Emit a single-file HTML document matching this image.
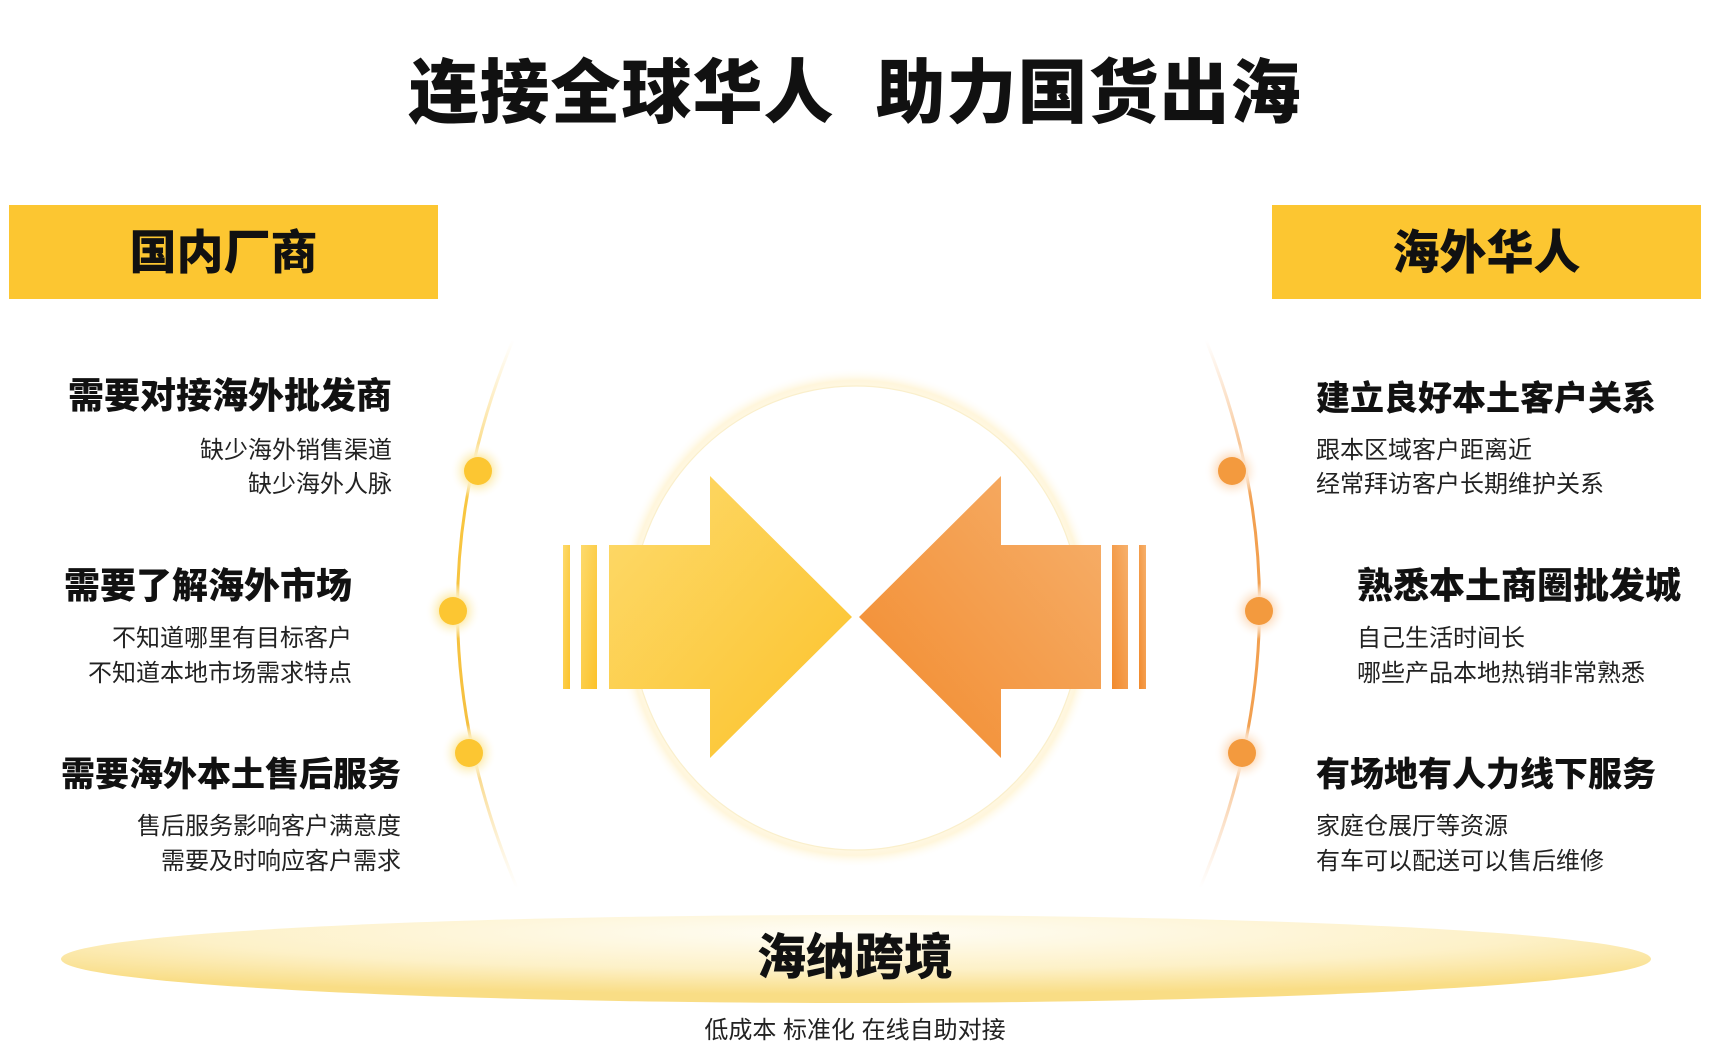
<!DOCTYPE html>
<html><head><meta charset="utf-8"><style>
html,body{margin:0;padding:0;background:#fff;}
body{width:1710px;height:1062px;position:relative;overflow:hidden;font-family:"Liberation Sans","Noto Sans CJK SC",sans-serif;color:#111;}
.t{position:absolute;white-space:nowrap;line-height:1;}
.h{font-weight:900;font-size:36px;}
.h10{font-size:34px;}
.s{font-size:24px;color:#222;}
.r{text-align:right;}
.box{position:absolute;background:#fcc631;top:205px;height:94px;}
</style></head><body>
<svg width="1710" height="1062" style="position:absolute;left:0;top:0">
<defs>
<radialGradient id="glow" cx="50%" cy="50%" r="50%">
<stop offset="0.8" stop-color="#fff"/><stop offset="0.95" stop-color="#fff6dc"/><stop offset="1" stop-color="#fff" stop-opacity="0"/>
</radialGradient>
<radialGradient id="base" cx="50%" cy="20%" r="70%">
<stop offset="0" stop-color="#fffdf5"/><stop offset="0.6" stop-color="#fdf1c8"/><stop offset="1" stop-color="#f9dd85"/>
</radialGradient>
<linearGradient id="ly" x1="0" y1="0" x2="1" y2="1"><stop offset="0" stop-color="#fdda6c"/><stop offset="1" stop-color="#fcc22a"/></linearGradient>
<linearGradient id="lo" x1="1" y1="0" x2="0" y2="1"><stop offset="0" stop-color="#f6b06c"/><stop offset="1" stop-color="#f28a2c"/></linearGradient>
<linearGradient id="arcL" x1="0" y1="0" x2="0" y2="1"><stop offset="0" stop-color="#fcd46a" stop-opacity="0"/><stop offset="0.3" stop-color="#f8c640"/><stop offset="0.7" stop-color="#f5c040"/><stop offset="1" stop-color="#f9d88a" stop-opacity="0"/></linearGradient>
<linearGradient id="arcR" x1="0" y1="0" x2="0" y2="1"><stop offset="0" stop-color="#f7b070" stop-opacity="0"/><stop offset="0.3" stop-color="#f2a050"/><stop offset="0.7" stop-color="#f2a050"/><stop offset="1" stop-color="#f7c090" stop-opacity="0"/></linearGradient>
<radialGradient id="halo"><stop offset="0.5" stop-color="#fdeeb8"/><stop offset="1" stop-color="#fff" stop-opacity="0"/></radialGradient>
<radialGradient id="haloR"><stop offset="0.5" stop-color="#fde2c8"/><stop offset="1" stop-color="#fff" stop-opacity="0"/></radialGradient>
</defs>
<ellipse cx="856" cy="618" rx="242" ry="250" fill="url(#glow)"/>
<ellipse cx="856" cy="618" rx="225" ry="232" fill="#fff" stroke="#faefcc" stroke-width="1.2"/>
<ellipse cx="856" cy="959" rx="795" ry="44" fill="url(#base)"/>
<path d="M513 340 Q400 612 517 888" fill="none" stroke="url(#arcL)" stroke-width="3"/>
<path d="M1206 340 Q1316 612 1200 888" fill="none" stroke="url(#arcR)" stroke-width="3"/>
<circle cx="478" cy="471" r="28" fill="url(#halo)"/><circle cx="478" cy="471" r="14" fill="#fcc632"/>
<circle cx="453" cy="611" r="28" fill="url(#halo)"/><circle cx="453" cy="611" r="14" fill="#fcc632"/>
<circle cx="469" cy="753" r="28" fill="url(#halo)"/><circle cx="469" cy="753" r="14" fill="#fcc632"/>
<circle cx="1232" cy="471" r="28" fill="url(#haloR)"/><circle cx="1232" cy="471" r="14" fill="#f39a3e"/>
<circle cx="1259" cy="611" r="28" fill="url(#haloR)"/><circle cx="1259" cy="611" r="14" fill="#f39a3e"/>
<circle cx="1242" cy="753" r="28" fill="url(#haloR)"/><circle cx="1242" cy="753" r="14" fill="#f39a3e"/>
<g fill="url(#ly)">
<rect x="563" y="545" width="7" height="144"/><rect x="581" y="545" width="16" height="144"/>
<path d="M609 545 H710 V476 L852 617 L710 758 V689 H609 Z"/>
</g>
<g fill="url(#lo)">
<rect x="1139" y="545" width="7" height="144"/><rect x="1112" y="545" width="16" height="144"/>
<path d="M1101 545 H1001 V476 L859 617 L1001 758 V689 H1101 Z"/>
</g>
</svg>
<div class="t" style="left:0;width:1710px;text-align:center;top:58px;font-size:70px;font-weight:900;letter-spacing:1px;">连接全球华人&nbsp;&nbsp;助力国货出海</div>
<div class="box" style="left:9px;width:429px;"></div>
<div class="box" style="left:1272px;width:429px;"></div>
<div class="t" style="left:9px;width:429px;text-align:center;top:229px;font-size:47px;font-weight:900;">国内厂商</div>
<div class="t" style="left:1272px;width:429px;text-align:center;top:229px;font-size:47px;font-weight:900;">海外华人</div>

<div class="t h r" style="right:1318px;top:378px;">需要对接海外批发商</div>
<div class="t s r" style="right:1318px;top:439px;">缺少海外销售渠道</div>
<div class="t s r" style="right:1318px;top:473px;">缺少海外人脉</div>
<div class="t h r" style="right:1358px;top:568px;">需要了解海外市场</div>
<div class="t s r" style="right:1358px;top:627px;">不知道哪里有目标客户</div>
<div class="t s r" style="right:1358px;top:662px;">不知道本地市场需求特点</div>
<div class="t h h10 r" style="right:1309px;top:758px;">需要海外本土售后服务</div>
<div class="t s r" style="right:1309px;top:815px;">售后服务影响客户满意度</div>
<div class="t s r" style="right:1309px;top:850px;">需要及时响应客户需求</div>

<div class="t h h10" style="left:1316px;top:382px;">建立良好本土客户关系</div>
<div class="t s" style="left:1316px;top:439px;">跟本区域客户距离近</div>
<div class="t s" style="left:1316px;top:473px;">经常拜访客户长期维护关系</div>
<div class="t h" style="left:1357px;top:568px;">熟悉本土商圈批发城</div>
<div class="t s" style="left:1357px;top:627px;">自己生活时间长</div>
<div class="t s" style="left:1357px;top:662px;">哪些产品本地热销非常熟悉</div>
<div class="t h h10" style="left:1316px;top:758px;">有场地有人力线下服务</div>
<div class="t s" style="left:1316px;top:815px;">家庭仓展厅等资源</div>
<div class="t s" style="left:1316px;top:850px;">有车可以配送可以售后维修</div>

<div class="t" style="left:0;width:1710px;text-align:center;top:934px;font-size:49px;font-weight:900;">海纳跨境</div>
<div class="t" style="left:0;width:1710px;text-align:center;top:1019px;font-size:24px;color:#222;">低成本 标准化 在线自助对接</div>
</body></html>
